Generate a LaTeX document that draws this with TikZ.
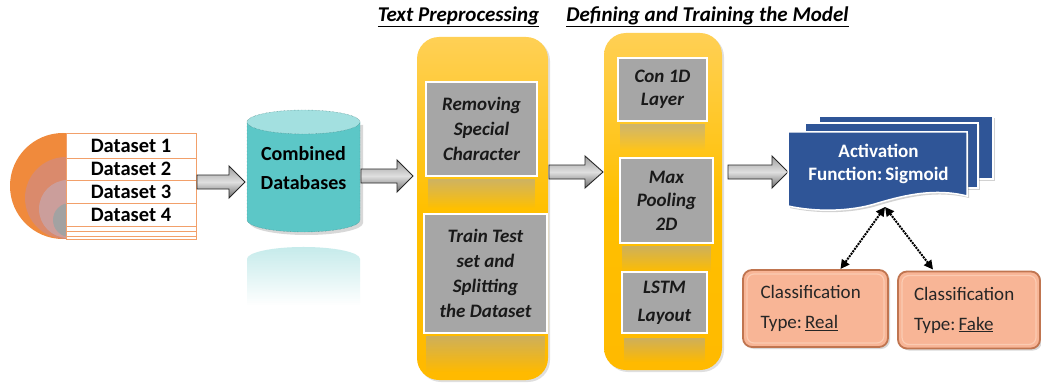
\documentclass[tikz,border=0pt]{standalone}
\usepackage{fontspec}
\setmainfont{Carlito}
\usetikzlibrary{shadows,fadings,arrows.meta,calc}
\definecolor{ygold}{HTML}{FFC000}
\definecolor{ylight}{HTML}{FFD055}
\definecolor{boxgrey}{HTML}{A6A6A6}
\definecolor{tealbody}{HTML}{5CC7C7}
\definecolor{tealtop}{HTML}{A3E0E0}
\definecolor{actblue}{HTML}{2F5597}
\definecolor{salmon}{HTML}{F8B596}
\definecolor{salmonlight}{HTML}{FBCBB2}
\definecolor{salmonedge}{HTML}{C07550}
\definecolor{rowedge}{HTML}{F2A06A}
\definecolor{circA}{HTML}{F08A3C}
\definecolor{circB}{HTML}{DA8A6C}
\definecolor{circC}{HTML}{CB9E9B}
\definecolor{circD}{HTML}{A2A2A2}
\newcommand\blockarr[4]{%
  \draw[blockarrow] (#1,#4-7) -- (#2,#4-7) -- (#2,#4-16) -- (#3,#4) -- (#2,#4+16) -- (#2,#4+7) -- (#1,#4+7) -- cycle;}
\begin{document}
\begin{tikzpicture}[x=1pt,y=-1pt,
  every node/.style={inner sep=0pt, outer sep=0pt},
  ttl/.style={font=\fontsize{21}{24}\selectfont\bfseries\itshape, text=black},
  dsrow/.style={draw=rowedge, fill=white, line width=0.9pt, minimum width=130},
  dstext/.style={font=\fontsize{20.5}{22}\selectfont\bfseries, text=black},
  blockarrow/.style={draw=black!85, line width=0.9pt, top color=gray!75, bottom color=gray!85!black, middle color=gray!25},
  panel/.style={rounded corners=22pt, top color=ylight, bottom color=ygold!90!orange, middle color=ygold,
    drop shadow={opacity=0.25, shadow xshift=2pt, shadow yshift=-2pt}},
  greybox/.style={draw=white, line width=2pt, fill=boxgrey, text=black!90, align=center},
  gfont/.style={font=\fontsize{19}{#1}\selectfont\bfseries\itshape},
  refl/.style={fill=boxgrey, opacity=0.55, path fading=south},
  docshape/.style={fill=actblue, draw=white, line width=1.5pt,
    drop shadow={opacity=0.35, shadow xshift=2pt, shadow yshift=-2pt}},
  classbox/.style={rounded corners=9pt, fill=salmon, draw=salmonedge, line width=1.8pt,
    text=black!85, align=left, text width=110, minimum height=77,
    font=\fontsize{19}{30}\selectfont,
    drop shadow={opacity=0.3, shadow xshift=2pt, shadow yshift=-2pt}},
  bevel/.style={rounded corners=7pt, draw=salmonlight, line width=1.2pt},
  dotarrow/.style={densely dotted, line width=2pt, {Triangle[length=9pt,width=9pt]}-{Triangle[length=9pt,width=9pt]}}
]
\useasboundingbox[fill=white] (0,0) rectangle (1041,385);

% titles
\node[ttl] (t1) at (458.5,17) {\underline{Text Preprocessing}};
\node[ttl] (t2) at (707.5,17) {\underline{Defining and Training the Model}};

% concentric circles
\fill[circA] (63,186) circle[radius=53];
\fill[circB] (66,198) circle[radius=41];
\fill[circC] (68,209) circle[radius=29];
\fill[circD] (70,220) circle[radius=17];

% dataset table
\node[dsrow, dstext, minimum height=25] (d1) at (131,145.5) {Dataset 1};
\node[dsrow, dstext, minimum height=22] (d2) at (131,169) {Dataset 2};
\node[dsrow, dstext, minimum height=23] (d3) at (131,191.5) {Dataset 3};
\node[dsrow, dstext, minimum height=23] (d4) at (131,214.5) {Dataset 4};
\node[dsrow, minimum height=5] (d5) at (131,228.5) {};
\node[dsrow, minimum height=5] (d6) at (131,233.5) {};
\node[dsrow, minimum height=3] (d7) at (131,237.5) {};

% arrow 1
\blockarr{197}{229}{245}{182}

% cylinder
\fill[tealbody, path fading=south, opacity=0.35] (247,259) arc[start angle=180, end angle=360, x radius=56.5, y radius=12] -- (360,305) -- (247,305) -- cycle;
\fill[tealbody, drop shadow={opacity=0.3, shadow xshift=3pt, shadow yshift=-3pt}] (247,122) -- (247,220) arc[start angle=180, end angle=0, x radius=56.5, y radius=12] -- (360,122) -- cycle;
\draw[tealbody!60!black, densely dotted, line width=0.4pt] (247,122) -- (247,220) arc[start angle=180, end angle=0, x radius=56.5, y radius=12] -- (360,122);
\filldraw[fill=tealtop, draw=tealbody!60!black, densely dotted, line width=0.4pt] (303.5,122) ellipse[x radius=56.5, y radius=12];
\node[dstext, font=\fontsize{20}{29}\selectfont\bfseries, align=center] (db) at (303.5,168) {Combined\\Databases};

% arrow 2
\blockarr{361}{397}{413}{176}

% panel 1
\path[panel] (417,37) rectangle (548,380);
\path[refl] (428,179) rectangle (535,208);
\path[refl] (426,336) rectangle (545,372);
\node[greybox, gfont=25, minimum width=111, minimum height=94] (rsc) at (481.5,129) {Removing\\Special\\Character};
\node[greybox, gfont=25, minimum width=123, minimum height=119] (tts) at (485.5,273.5) {Train Test\\set and\\Splitting\\the Dataset};

% arrow 3
\blockarr{549}{585}{603}{172}

% panel 2
\path[panel] (604,33) rectangle (722,370);
\path[refl] (620,124) rectangle (705,150);
\path[refl] (622,246) rectangle (711,272);
\path[refl] (624,338) rectangle (705,362);
\node[greybox, gfont=23, minimum width=89, minimum height=63] (con) at (662.5,89.5) {Con 1D\\Layer};
\node[greybox, gfont=23.5, minimum width=93, minimum height=85] (mp) at (666.5,200.5) {Max\\Pooling\\2D};
\node[greybox, gfont=28, minimum width=85, minimum height=61] (lstm) at (664.5,302.5) {LSTM\\Layout};

% arrow 4
\blockarr{728}{772}{788}{172}

% stacked documents
\path[docshape] (819,116) rectangle (993,179);
\path[docshape] (805,123) rectangle (978,188);
\path[docshape] (788,132) -- (967,132) -- (967,196) .. controls (935,188) and (905,195) .. (878,203) .. controls (850,212) and (815,212) .. (788,206) -- cycle;
\node[font=\fontsize{19}{23}\selectfont\bfseries, text=white, align=center] (act) at (878.5,163.5) {Activation\\Function:\,Sigmoid};
\coordinate (actb) at (885,207);

% classification boxes
\node[classbox, minimum width=145, inner xsep=17.5] (real) at (815.5,308.5) {Classification\\Type:\,\underline{Real}};
\node[classbox, minimum width=142, inner xsep=16] (fake) at (969,310) {Classification\\Type:\,\underline{Fake}};
\draw[bevel] ($(real.north west)+(4,4)$) rectangle ($(real.south east)+(-4,-4)$);
\draw[bevel] ($(fake.north west)+(4,4)$) rectangle ($(fake.south east)+(-4,-4)$);

\draw[dotarrow] (actb) -- ($(real.north)+(25,-1)$);
\draw[dotarrow] (actb) -- ($(fake.north)+(-36,-2)$);
\end{tikzpicture}
\end{document}
